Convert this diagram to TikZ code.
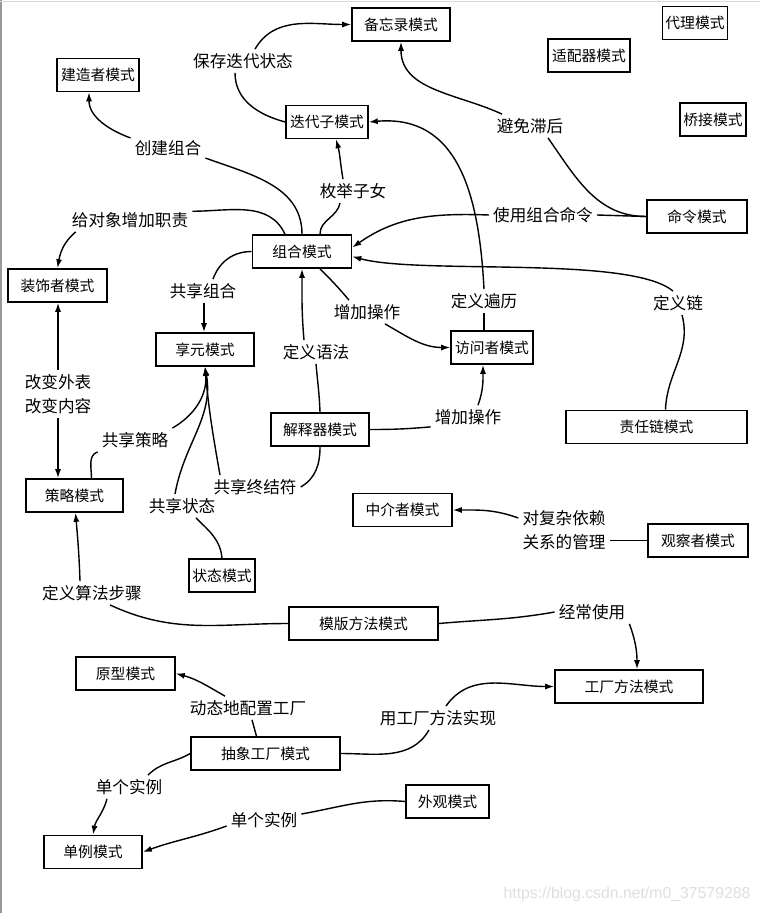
\documentclass[tikz,border=0pt]{standalone}
\usepackage{fontspec}
\setmainfont{Noto Sans CJK SC}
\newfontfamily\markfont{Liberation Sans}
\usetikzlibrary{arrows.meta}

\begin{document}
\begin{tikzpicture}[x=1pt,y=1pt,
  box/.style={draw,line width=1.6pt,minimum height=33pt,inner sep=2pt,font=\fontsize{14.8}{16}\selectfont},
  lbl/.style={inner sep=4pt,font=\fontsize{16.6}{24}\selectfont,align=center},
  con/.style={line width=1.4pt},
  arr/.style={con,-{Latex[length=9pt,width=6pt]}}]
\useasboundingbox (0,0) rectangle (760,-913);
\fill[white] (0,0) rectangle (760,-913);
\draw[gray!80,line width=2.5pt] (1.2,0) -- (1.2,-913);
\draw[gray!30,line width=1pt] (0,-1) -- (760,-1);

\node[box,minimum width=98pt] (memento) at (401,-24.5) {备忘录模式};
\node[box,minimum width=65pt] (proxy) at (695,-23) {代理模式};
\node[box,minimum width=82pt] (adapter) at (589,-55.5) {适配器模式};
\node[box,minimum width=66pt] (bridge) at (713,-119.5) {桥接模式};
\node[box,minimum width=100pt] (cmd) at (697,-216.5) {命令模式};
\node[box,minimum width=82pt] (builder) at (98,-75) {建造者模式};
\node[box,minimum width=82pt] (iter) at (327,-122) {迭代子模式};
\node[box,minimum width=99pt] (comp) at (302,-251.5) {组合模式};
\node[box,minimum width=99pt] (decor) at (57.5,-285.5) {装饰者模式};
\node[box,minimum width=98pt] (flywt) at (205,-349.5) {享元模式};
\node[box,minimum width=98pt] (interp) at (320,-429.5) {解释器模式};
\node[box,minimum width=97pt] (strat) at (74.5,-495.5) {策略模式};
\node[box,minimum width=66pt] (state) at (222,-575.5) {状态模式};
\node[box,minimum width=82pt] (visitor) at (492,-347.5) {访问者模式};
\node[box,minimum width=181pt] (chain) at (656.5,-427) {责任链模式};
\node[box,minimum width=99pt] (mediator) at (402.5,-510) {中介者模式};
\node[box,minimum width=100pt] (observer) at (698,-540.5) {观察者模式};
\node[box,minimum width=149pt] (templ) at (363.5,-623.5) {模版方法模式};
\node[box,minimum width=99pt] (proto) at (125.5,-673.5) {原型模式};
\node[box,minimum width=148pt] (factm) at (629,-686.5) {工厂方法模式};
\node[box,minimum width=149pt] (absf) at (265.5,-753.5) {抽象工厂模式};
\node[box,minimum width=83pt] (facade) at (447.5,-801.5) {外观模式};
\node[box,minimum width=98pt] (single) at (93,-852) {单例模式};

\node[lbl] (savelbl) at (243,-61) {保存迭代状态};
\node[lbl] (buildlbl) at (168,-148) {创建组合};
\node[lbl] (enumlbl) at (353,-191) {枚举子女};
\node[lbl] (declbl) at (130,-220) {给对象增加职责};
\node[lbl] (lagging) at (530,-126) {避免滞后};
\node[lbl] (cmdlbl) at (543,-215) {使用组合命令};
\node[lbl] (sharecomplbl) at (203,-291) {共享组合};
\node[lbl] (opslbl) at (367,-312) {增加操作};
\node[lbl] (travlbl) at (484,-301) {定义遍历};
\node[lbl] (chainlbl) at (678,-303) {定义链};
\node[lbl] (syntaxlbl) at (316,-352) {定义语法};
\node[lbl] (changelbl) at (58,-394) {改变外表\\改变内容};
\node[lbl] (sharestratlbl) at (135,-440) {共享策略};
\node[lbl] (ops2lbl) at (468,-417) {增加操作};
\node[lbl] (termlbl) at (255,-487) {共享终结符};
\node[lbl] (sharestatelbl) at (182,-506) {共享状态};
\node[lbl] (mediatelbl) at (564,-530) {对复杂依赖\\关系的管理};
\node[lbl] (algolbl) at (92,-593) {定义算法步骤};
\node[lbl] (uselbl) at (592,-612) {经常使用};
\node[lbl] (dynlbl) at (248,-708) {动态地配置工厂};
\node[lbl] (implbl) at (438,-718) {用工厂方法实现};
\node[lbl] (single1lbl) at (129,-787) {单个实例};
\node[lbl] (single2lbl) at (264,-820) {单个实例};

\draw[con] (iter.west) to[out=165,in=-90] ([xshift=-8pt]savelbl.south);
\draw[arr] ([xshift=12pt]savelbl.north) to[out=60,in=180] (memento.west);
\draw[con] (comp.north) to[out=90,in=-20] (buildlbl.-15);
\draw[arr] (buildlbl.165) to[out=160,in=-90] ([xshift=-9pt]builder.south);
\draw[con] ([xshift=18pt]comp.north) to[out=90,in=-100] ([xshift=-13pt]enumlbl.south);
\draw[arr] ([xshift=-10pt]enumlbl.north) to[out=100,in=-75] ([xshift=9pt]iter.south);
\draw[con] ([xshift=-17pt]comp.north) to[out=115,in=0] (declbl.8);
\draw[arr] ([xshift=8pt]declbl.south west) to[out=-140,in=80] (decor.north);
\draw[con] ([xshift=18pt]lagging.south) to[out=-55,in=180] (cmd.west);
\draw[arr] ([xshift=-28pt]lagging.north) to[out=155,in=-90] (memento.south);
\draw[con] (cmdlbl.east) -- (cmd.west);
\draw[arr] (cmdlbl.west) to[out=178,in=35] ([yshift=4pt]comp.east);
\draw[con] ([xshift=9pt]chain.north) to[out=88,in=-75] ([xshift=4pt]chainlbl.south);
\draw[arr] ([xshift=-5pt]chainlbl.north) .. controls (630,-255) and (420,-275) .. ([yshift=-5pt]comp.east);
\draw[con] (travlbl.south) -- (travlbl.south |- visitor.north);
\draw[arr] (travlbl.north) to[out=93,in=5,looseness=1.15] (iter.east);
\draw[con] ([xshift=18pt]comp.south) to[out=-45,in=130] ([xshift=-18pt]opslbl.north);
\draw[arr] ([xshift=18pt]opslbl.south) to[out=-30,in=180] (visitor.west);
\draw[con] (interp.north) to[out=92,in=-85] (syntaxlbl.south);
\draw[arr] ([xshift=-12pt]syntaxlbl.north) to[out=95,in=-90] (comp.south);
\draw[con] (comp.west) to[out=180,in=70] ([xshift=10pt]sharecomplbl.north);
\draw[arr] ([xshift=1pt]sharecomplbl.south) -- ([xshift=1pt]sharecomplbl.south |- flywt.north);
\draw[arr] (changelbl.north) -- (changelbl.north |- decor.south);
\draw[arr] (changelbl.south) -- (changelbl.south |- strat.north);
\draw[con] ([xshift=17pt]strat.north) to[out=90,in=-160] (sharestratlbl.south west);
\draw[arr] (sharestratlbl.north east) to[out=30,in=-85] (flywt.south);
\draw[con] (state.north) to[out=95,in=-45] ([xshift=14pt]sharestatelbl.south);
\draw[arr] ([xshift=-7pt]sharestatelbl.north) to[out=80,in=-80] (flywt.south);
\draw[con] (interp.south) to[out=-90,in=30] (termlbl.east);
\draw[arr] ([xshift=-35pt]termlbl.north) to[out=100,in=-85] (flywt.south);
\draw[con] (interp.east) to[out=0,in=185] ([yshift=2pt]ops2lbl.south west);
\draw[arr] ([xshift=10pt]ops2lbl.north) to[out=70,in=-90] ([xshift=-9pt]visitor.south);
\draw[con] (observer.west) -- (observer.west -| mediatelbl.east);
\draw[arr] ([yshift=12pt]mediatelbl.west) to[out=160,in=0] (mediator.east);
\draw[con] (templ.west) to[out=180,in=-25] ([xshift=18pt]algolbl.south);
\draw[arr] ([xshift=-12pt]algolbl.north) to[out=92,in=-85] ([xshift=1pt]strat.south);
\draw[con] (templ.east) to[out=5,in=190] (uselbl.west);
\draw[arr] (uselbl.south east) to[out=-70,in=90] ([xshift=8pt]factm.north);
\draw[con] ([xshift=-9pt]absf.north) -- ([xshift=4pt]dynlbl.south);
\draw[arr] ([xshift=-23pt]dynlbl.north) to[out=150,in=-15] (proto.east);
\draw[con] (absf.east) to[out=0,in=-120] ([xshift=-9pt]implbl.south);
\draw[arr] ([xshift=8pt]implbl.north) to[out=55,in=180] (factm.west);
\draw[con] (absf.west) to[out=-150,in=45] ([xshift=19pt]single1lbl.north);
\draw[arr] ([xshift=-22pt]single1lbl.south) to[out=-105,in=80] (single.north);
\draw[con] (facade.west) to[out=175,in=10] ([yshift=6pt]single2lbl.east);
\draw[arr] ([yshift=-6pt]single2lbl.west) to[out=-160,in=20] (single.east);

\node[text=gray!25,font=\markfont\fontsize{15.8}{17}\selectfont,inner sep=0pt] (mark) at (627,-894) {https://blog.csdn.net/m0\_37579288};
\end{tikzpicture}
\end{document}
